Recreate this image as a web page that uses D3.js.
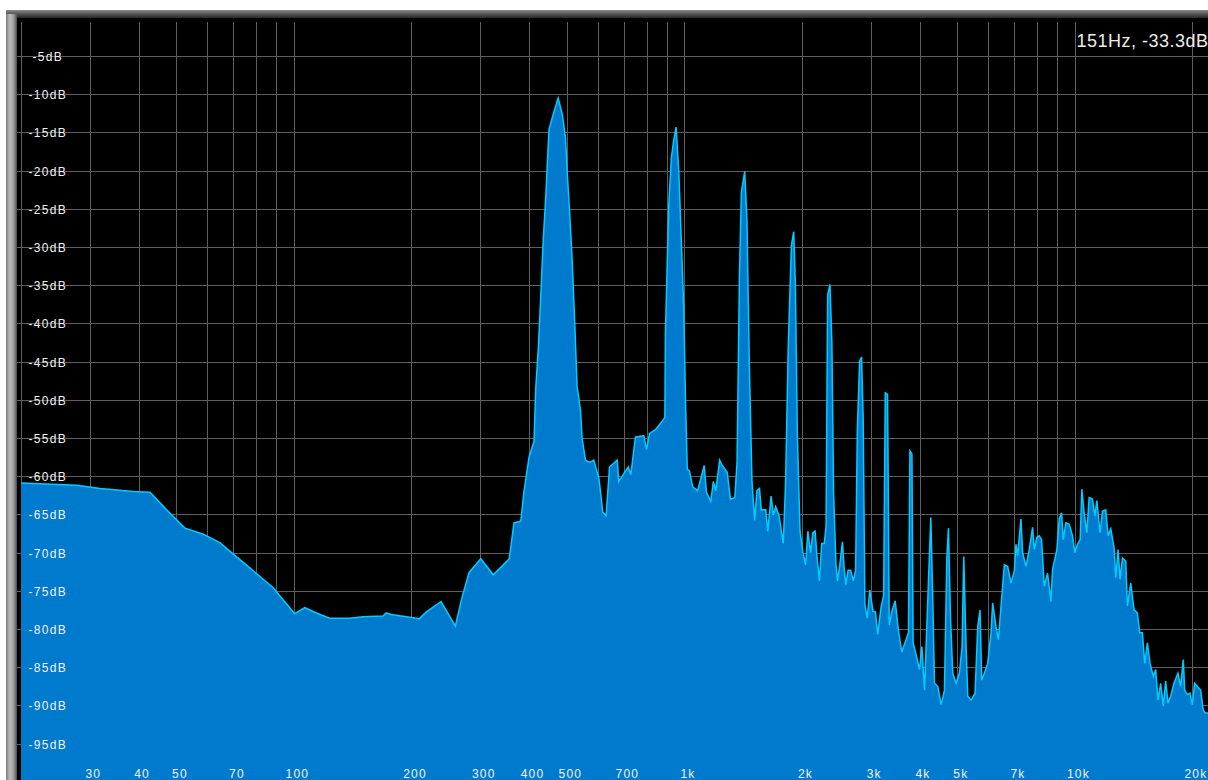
<!DOCTYPE html>
<html>
<head>
<meta charset="utf-8">
<script src="https://cdn.jsdelivr.net/npm/d3@7"></script>
<style>
  html, body { margin: 0; padding: 0; background: #ffffff; overflow: hidden; }
  svg { display: block; }
  text { font-family: "Liberation Sans", Arial, sans-serif; }
</style>
</head>
<body>
<svg id="chart" width="1208" height="780"></svg>
<script>
// Spectrum trace: frequency (Hz) and level (dB), in order of frequency
const freqHz = [
  20, 27.8, 31.9, 38.8, 42.8, 47.2, 52.6, 58.6, 64.6, 68.5, 77.1, 88.5, 93.9, 100.5, 106.6,
  114.2, 123.4, 138.9, 150.3, 169, 172.3, 177.5, 206,
  209, 218, 238, 259, 270, 281, 301, 324, 356, 366, 381, 388, 400, 412, 416, 423, 429, 435,
  441, 450, 461, 475, 487, 496, 501, 508, 516, 524, 531, 542, 547, 558, 572, 586, 604, 618,
  630, 643, 673, 679, 707, 718, 729, 749, 787, 800, 814, 843, 877, 891, 894, 912, 926, 939,
  952, 967, 986, 996, 1006, 1017,
  1030, 1050, 1081, 1124, 1139, 1168, 1186, 1203, 1231, 1250, 1287, 1312, 1346, 1364, 1383,
  1399, 1427, 1446, 1466, 1489, 1513, 1533, 1557, 1573, 1616, 1635, 1667, 1690, 1713, 1746,
  1791, 1815, 1844, 1879, 1905, 1924, 1946, 1977, 2012, 2043, 2071, 2104, 2132, 2161, 2187,
  2217, 2247, 2282, 2305, 2327, 2359, 2386, 2410, 2443, 2467, 2500, 2539, 2564, 2589, 2625,
  2666, 2707, 2744, 2772, 2810, 2842, 2870, 2898, 2938, 2983, 3042, 3083, 3126, 3187, 3237,
  3269, 3313, 3346, 3398, 3465, 3533, 3602, 3695,
  3748, 3780, 3825, 3852, 3922, 4000, 4055, 4120, 4218, 4276, 4326, 4369, 4455, 4544, 4634,
  4698, 4744, 4800, 4866, 4963, 5061, 5141, 5192, 5264, 5316, 5421, 5550, 5638, 5716, 5772,
  5864, 5980, 6098, 6158, 6280, 6368, 6468, 6596, 6727, 6860, 6996, 7064, 7134, 7275, 7348,
  7493, 7641, 7792, 7870, 7994, 8104, 8216, 8346, 8511, 8681, 8766, 8992, 9117, 9242, 9334,
  9482, 9669, 9860, 9997, 10155, 10316, 10418, 10560, 10727, 10877, 11092, 11246, 11379, 11604,
  11765, 11997, 12164, 12356, 12600, 12726, 12900, 13052, 13233, 13496, 13630, 13899, 14174,
  14454, 14655, 14887, 15094, 15333, 15575, 15883, 16103, 16324, 16582, 16845, 17076, 17314,
  17587, 17935, 18361, 18655, 18950, 19099, 19401, 19707, 19981, 20254, 20574, 20986, 21317,
  21569, 22050
];
const levelDb = [
  -60.9, -61.2, -61.6, -62.0, -62.1, -64.4, -66.8, -67.6, -68.7, -69.8, -72.0, -74.6, -76.2, -78.0, -77.2,
  -77.9, -78.6, -78.6, -78.4, -78.3, -77.9, -78.1, -78.6,
  -78.7, -77.8, -76.4, -79.6, -75.7, -72.6, -70.8, -72.9, -70.8, -66.1, -65.9, -62.1, -57.5, -55.4, -48.6, -42.8, -36.0, -29.0,
  -23.9, -14.6, -12.7, -10.5, -12.7, -15.7, -20.2, -25.3, -31.8, -40.2, -48.2, -51.4, -55.1, -57.9, -58.2, -57.9, -60.3, -64.7,
  -65.2, -58.8, -57.9, -60.7, -59.3, -58.8, -59.8, -54.9, -54.7, -56.5, -54.4, -53.9, -52.8, -52.3, -41.2, -24.4, -18.3, -16.0,
  -14.3, -19.9, -31.8, -37.9, -49.6, -59.1,
  -59.3, -61.4, -61.9, -58.6, -62.1, -63.3, -60.7, -61.9, -57.9, -58.6, -59.5, -63.0, -62.8, -58.1, -34.0,
  -22.8, -20.1, -26.5, -45.1, -60.5, -65.8, -61.9, -61.6, -64.4, -64.4, -67.2, -62.6, -65.1, -64.0, -65.1,
  -68.8, -61.2, -43.3, -29.8, -28.0, -34.9, -54.4, -67.2, -70.0, -71.6, -67.2, -70.0, -67.4, -67.2, -70.7,
  -73.7, -68.8, -68.8, -66.5, -36.3, -34.9, -42.6, -62.1, -71.4, -73.7, -71.6, -68.6, -71.9, -74.2, -72.3,
  -72.3, -73.7, -72.3, -54.0, -44.9, -44.4, -52.6, -76.7, -78.6, -74.9, -77.7, -77.7, -80.7, -77.2, -75.6,
  -49.1, -49.3, -79.5, -77.7, -76.3, -80.2, -83.0, -81.4,
  -80.5, -56.7, -57.1, -81.8, -83.4, -85.3, -82.3, -88.0, -73.5, -65.4, -76.2, -87.1, -87.5, -89.9, -88.0,
  -70.9, -66.8, -78.3, -85.8, -87.1, -85.8, -82.3, -70.5, -82.3, -88.8, -89.3, -88.4, -79.7, -77.5, -86.7,
  -85.8, -84.5, -80.5, -76.6, -79.7, -81.4, -77.0, -71.6, -71.8, -74.0, -72.4, -68.9, -70.4, -65.6, -70.0,
  -71.8, -69.6, -66.7, -69.6, -68.0, -67.8, -68.3, -74.4, -72.7, -76.4, -72.2, -69.6, -65.6, -64.8, -68.3,
  -66.1, -66.3, -67.8, -70.0, -68.9, -68.3, -61.7, -64.8, -67.4, -62.8, -63.0, -65.2, -63.2, -67.4,
  -64.6, -64.4, -67.8, -66.9, -69.4, -73.3, -69.6, -73.5, -70.7, -71.1, -77.0, -74.0, -77.5,
  -77.9, -80.5, -80.5, -84.5, -81.8, -84.5, -86.2, -85.3, -89.3, -87.1, -90.1, -86.8, -89.7,
  -88.8, -87.1, -85.8, -87.5, -84.0, -88.0, -88.6, -88.4, -89.9, -87.1, -87.5, -88.0, -90.6,
  -91.0, -91.0
];

// Level gridlines / labels (dB)
const dbTicks = [-5, -10, -15, -20, -25, -30, -35, -40, -45, -50, -55, -60, -65, -70, -75, -80, -85, -90, -95];
// Frequency gridlines (Hz)
const gridFreqs = [20, 30, 40, 50, 60, 70, 80, 90, 100, 200, 300, 400, 500, 600, 700, 800, 900,
  1000, 2000, 3000, 4000, 5000, 6000, 7000, 8000, 9000, 10000, 20000];
// Labelled frequencies (Hz)
const freqLabels = [30, 40, 50, 70, 100, 200, 300, 400, 500, 700, 1000, 2000, 3000, 4000, 5000, 7000, 10000, 20000];
// Cursor readout
const cursorText = "151Hz, -33.3dB";

const W = 1208, H = 780;
const plot = { left: 17, top: 18, right: 1208, bottom: 780 };

const x = d3.scaleLog().domain([20, 22050]).range([21, 1209]);
const y = d3.scaleLinear().domain([0, -100]).range([17.8, 781.8]);

const svg = d3.select("#chart");
const defs = svg.append("defs");

// Window frame
const topGrad = defs.append("linearGradient").attr("id", "frameTop")
  .attr("x1", 0).attr("y1", 0).attr("x2", 0).attr("y2", 1);
topGrad.append("stop").attr("offset", "0%").attr("stop-color", "#8c8c8c");
topGrad.append("stop").attr("offset", "45%").attr("stop-color", "#5a5a5a");
topGrad.append("stop").attr("offset", "100%").attr("stop-color", "#262626");

const leftGrad = defs.append("linearGradient").attr("id", "frameLeft")
  .attr("x1", 0).attr("y1", 0).attr("x2", 1).attr("y2", 0);
leftGrad.append("stop").attr("offset", "0%").attr("stop-color", "#7a7a7a");
leftGrad.append("stop").attr("offset", "35%").attr("stop-color", "#bdbdbd");
leftGrad.append("stop").attr("offset", "70%").attr("stop-color", "#9a9a9a");
leftGrad.append("stop").attr("offset", "100%").attr("stop-color", "#4a4a4a");

defs.append("clipPath").attr("id", "plotClip")
  .append("rect")
  .attr("x", plot.left).attr("y", plot.top)
  .attr("width", plot.right - plot.left).attr("height", plot.bottom - plot.top);

svg.append("rect").attr("x", 0).attr("y", 0).attr("width", W).attr("height", H).attr("fill", "#ffffff");
svg.append("rect").attr("x", 6).attr("y", 10).attr("width", W - 6).attr("height", 8).attr("fill", "url(#frameTop)");
svg.append("rect").attr("x", 6).attr("y", 14).attr("width", 11).attr("height", H - 14).attr("fill", "url(#frameLeft)");
svg.append("rect")
  .attr("x", plot.left).attr("y", plot.top)
  .attr("width", plot.right - plot.left).attr("height", plot.bottom - plot.top)
  .attr("fill", "#000000");

const plotG = svg.append("g").attr("clip-path", "url(#plotClip)");

// Gridlines
const gridColor = "#5e5e5e";
const gridH = plotG.append("g")
  .attr("transform", `translate(${plot.left},0)`)
  .call(d3.axisLeft(y).tickValues(dbTicks).tickSize(-(plot.right - plot.left)).tickFormat(""));
const gridV = plotG.append("g")
  .attr("transform", `translate(0,22)`)
  .call(d3.axisBottom(x).tickValues(gridFreqs).tickSize(plot.bottom - 22).tickFormat(""));
[gridH, gridV].forEach(g => {
  g.select(".domain").remove();
  g.selectAll("line").attr("stroke", gridColor).attr("stroke-width", 1).attr("shape-rendering", "crispEdges");
});

// Spectrum
const pts = freqHz.map((f, i) => ({ f, db: levelDb[i] }));
const area = d3.area()
  .x(d => x(d.f))
  .y0(y(-100) + 2)
  .y1(d => y(d.db));
const line = d3.line()
  .x(d => x(d.f))
  .y(d => y(d.db));

plotG.append("path").datum(pts)
  .attr("d", area)
  .attr("fill", "#007acc");
plotG.append("path").datum(pts)
  .attr("d", line)
  .attr("fill", "none")
  .attr("stroke", "#00ccff")
  .attr("stroke-width", 1.5)
  .attr("stroke-linejoin", "miter");

// Level labels
const yLab = svg.append("g")
  .attr("transform", `translate(47.7,0)`)
  .call(d3.axisRight(y).tickValues(dbTicks).tickSize(0).tickPadding(0).tickFormat(d => d + "dB"));
yLab.select(".domain").remove();
yLab.selectAll("text")
  .attr("x", 0)
  .attr("dy", "0.38em")
  .attr("text-anchor", "middle")
  .attr("fill", "#f2f2f2")
  .attr("font-size", 12)
  .attr("letter-spacing", "1.3px")
  .attr("font-family", "Liberation Sans, Arial, sans-serif");

// Frequency labels
const fmtHz = f => f >= 1000 ? (f / 1000) + "k" : String(f);
const xLab = svg.append("g")
  .attr("transform", `translate(3,777.5)`)
  .call(d3.axisBottom(x).tickValues(freqLabels).tickSize(0).tickPadding(0).tickFormat(fmtHz));
xLab.select(".domain").remove();
xLab.selectAll("text")
  .attr("y", 0)
  .attr("dy", 0)
  .attr("text-anchor", "middle")
  .attr("fill", "#f2f2f2")
  .attr("font-size", 12)
  .attr("letter-spacing", "1.2px")
  .attr("font-family", "Liberation Sans, Arial, sans-serif");

// Cursor readout
svg.append("text")
  .attr("x", 1076.5)
  .attr("y", 46.5)
  .attr("fill", "#ececec")
  .attr("font-size", 18)
  .attr("letter-spacing", "0.5px")
  .text(cursorText);
</script>
</body>
</html>
